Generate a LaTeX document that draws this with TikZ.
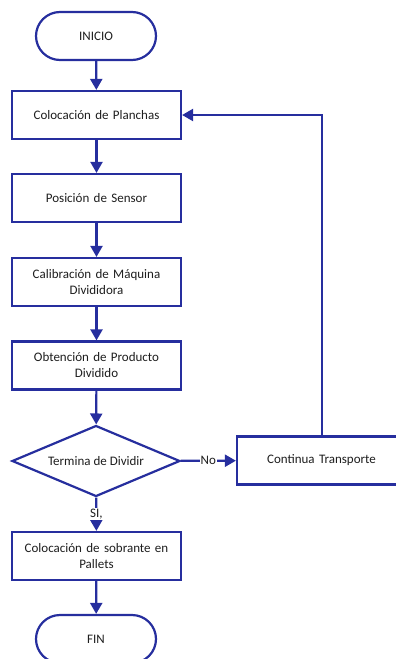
\documentclass[tikz,border=0pt]{standalone}
\usepackage{fontspec}
\setmainfont{Carlito}
\usetikzlibrary{shapes.geometric,arrows.meta}
\definecolor{fline}{RGB}{38,46,158}
\definecolor{ftext}{RGB}{30,30,30}
\tikzset{
  base/.style={draw=fline,line width=2.2pt,text=ftext,font=\fontsize{13}{16}\selectfont,align=center,inner sep=0pt,fill=white},
  term/.style={base,minimum width=120pt,minimum height=48pt,rounded corners=24pt},
  proc/.style={base,minimum width=169pt,minimum height=48pt,text width=165pt},
  deci/.style={base,diamond,aspect=2.37,minimum width=168pt,minimum height=71pt},
  conn/.style={draw=fline,line width=2.2pt,-{Triangle[length=11pt,width=12pt]}},
  lbl/.style={fill=white,text=ftext,font=\fontsize{13}{15}\selectfont,inner sep=1pt}
}
\begin{document}
\begin{tikzpicture}[x=1pt,y=-1pt]
\useasboundingbox (0,0) rectangle (396,659);
\clip (0,0) rectangle (396,659);
\node[term] (inicio) at (96,36) {INICIO};
\node[proc] (c1) at (96.5,115) {Colocación de Planchas};
\node[proc] (c2) at (96.5,198) {Posición de Sensor};
\node[proc] (c3) at (96.5,282) {Calibración de Máquina\\Divididora};
\node[proc] (c4) at (96.5,365.5) {Obtención de Producto\\Dividido};
\node[deci] (d) at (96,461) {Termina de Dividir};
\node[proc] (ct) at (321.5,460.5) {Continua Transporte};
\node[proc] (c5) at (96.5,556) {Colocación de sobrante en\\Pallets};
\node[term] (fin) at (96,639) {FIN};
\coordinate (corner) at (322,115);
\draw[conn] (inicio) -- (c1);
\draw[conn] (c1) -- (c2);
\draw[conn] (c2) -- (c3);
\draw[conn] (c3) -- (c4);
\draw[conn] (c4) -- (d);
\draw[conn] (d) -- node[lbl] {No} (ct);
\draw[conn] (d) -- node[lbl] {SI,} (c5);
\draw[conn] (c5) -- (fin);
\draw[conn] (ct.north -| corner) -- (corner) -- (c1.east);
\end{tikzpicture}
\end{document}
